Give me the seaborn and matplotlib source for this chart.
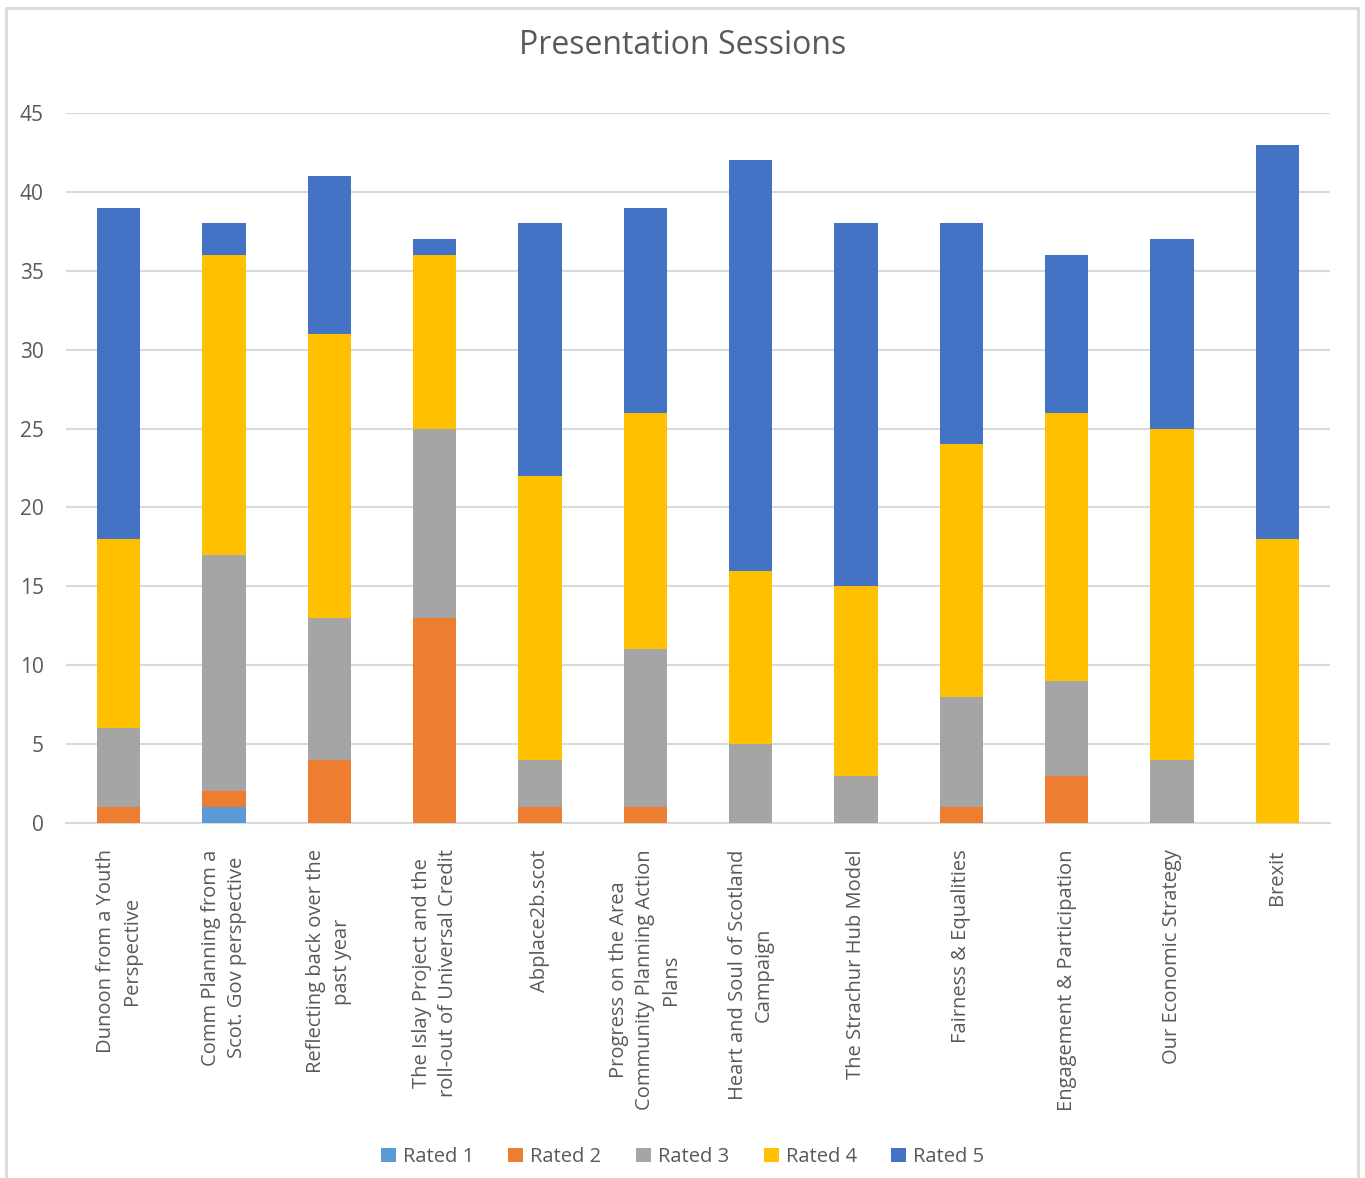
import matplotlib
matplotlib.use("Agg")
import numpy as np
import pandas as pd
import seaborn as sns
import matplotlib.pyplot as plt
from matplotlib.lines import Line2D
from matplotlib.patches import Patch

sessions = [
    "Dunoon from a Youth\nPerspective",
    "Comm Planning from a\nScot. Gov perspective",
    "Reflecting back over the\npast year",
    "The Islay Project and the\nroll-out of Universal Credit",
    "Abplace2b.scot",
    "Progress on the Area\nCommunity Planning Action\nPlans",
    "Heart and Soul of Scotland\nCampaign",
    "The Strachur Hub Model",
    "Fairness & Equalities",
    "Engagement & Participation",
    "Our Economic Strategy",
    "Brexit",
]
rated_1 = [0, 1, 0, 0, 0, 0, 0, 0, 0, 0, 0, 0]
rated_2 = [1, 1, 4, 13, 1, 1, 0, 0, 1, 3, 0, 0]
rated_3 = [5, 15, 9, 12, 3, 10, 5, 3, 7, 6, 4, 0]
rated_4 = [12, 19, 18, 11, 18, 15, 11, 12, 16, 17, 21, 18]
rated_5 = [21, 2, 10, 1, 16, 13, 26, 23, 14, 10, 12, 25]

series = ["Rated 1", "Rated 2", "Rated 3", "Rated 4", "Rated 5"]
colors = ["#5B9BD5", "#ED7D31", "#A5A5A5", "#FFC000", "#4472C4"]
txt = "#595959"
grid = "#D9D9D9"

df = pd.DataFrame({"session": sessions, "Rated 1": rated_1, "Rated 2": rated_2,
                   "Rated 3": rated_3, "Rated 4": rated_4, "Rated 5": rated_5})
cum = df[series].cumsum(axis=1)

sns.set_theme(style="white")
plt.rcParams["font.family"] = ["Open Sans", "DejaVu Sans"]

fig = plt.figure(figsize=(13.65, 11.78), dpi=100)
ax = fig.add_axes([66 / 1365, 1 - 823 / 1178, (1330 - 66) / 1365, (823 - 113) / 1178])

# stacked bars: draw cumulative totals from the top series down
for s, c in zip(series[::-1], colors[::-1]):
    sns.barplot(x=df["session"], y=cum[s], color=c, width=0.41, ax=ax,
                saturation=1, linewidth=0, zorder=3)

ax.set_ylim(0, 45)
ax.set_xlim(-0.5, len(sessions) - 0.5)
ax.set_yticks(range(0, 46, 5))
ax.yaxis.grid(True, color=grid, linewidth=1.5, zorder=0)
ax.set_axisbelow(True)
for sp in ["left", "top", "right"]:
    ax.spines[sp].set_visible(False)
ax.spines["bottom"].set_color(grid)
ax.spines["bottom"].set_linewidth(1.5)
ax.set_xlabel("")
ax.set_ylabel("")
ax.tick_params(axis="y", labelsize=15, colors=txt, length=0, pad=16)
ax.tick_params(axis="x", length=0, pad=19)
ax.set_xticks(range(len(sessions)))
ax.set_xticklabels(sessions, rotation=90, fontsize=14.5, color=txt,
                   ha="center", va="top", multialignment="center", linespacing=1.4)

fig.text(0.5, 1 - 46 / 1178, "Presentation Sessions", ha="center", va="center",
         fontsize=23, color=txt)

handles = [Patch(facecolor=c, edgecolor="none") for c in colors]
fig.legend(handles, series, loc="center", bbox_to_anchor=(0.5, 1 - 1157 / 1178),
           ncol=5, frameon=False, fontsize=14.5, labelcolor=txt,
           handlelength=0.75, handleheight=0.75, handletextpad=0.35, columnspacing=1.7)

# chart border
for xs, ys in [([6, 6], [0, 1170]), ([6, 1358], [1170, 1170]), ([1358, 1358], [1170, 0])]:
    fig.add_artist(Line2D([x / 1365 for x in xs], [y / 1178 for y in ys],
                          color=grid, linewidth=2))

fig.savefig("out.png", dpi=100, facecolor="white")
